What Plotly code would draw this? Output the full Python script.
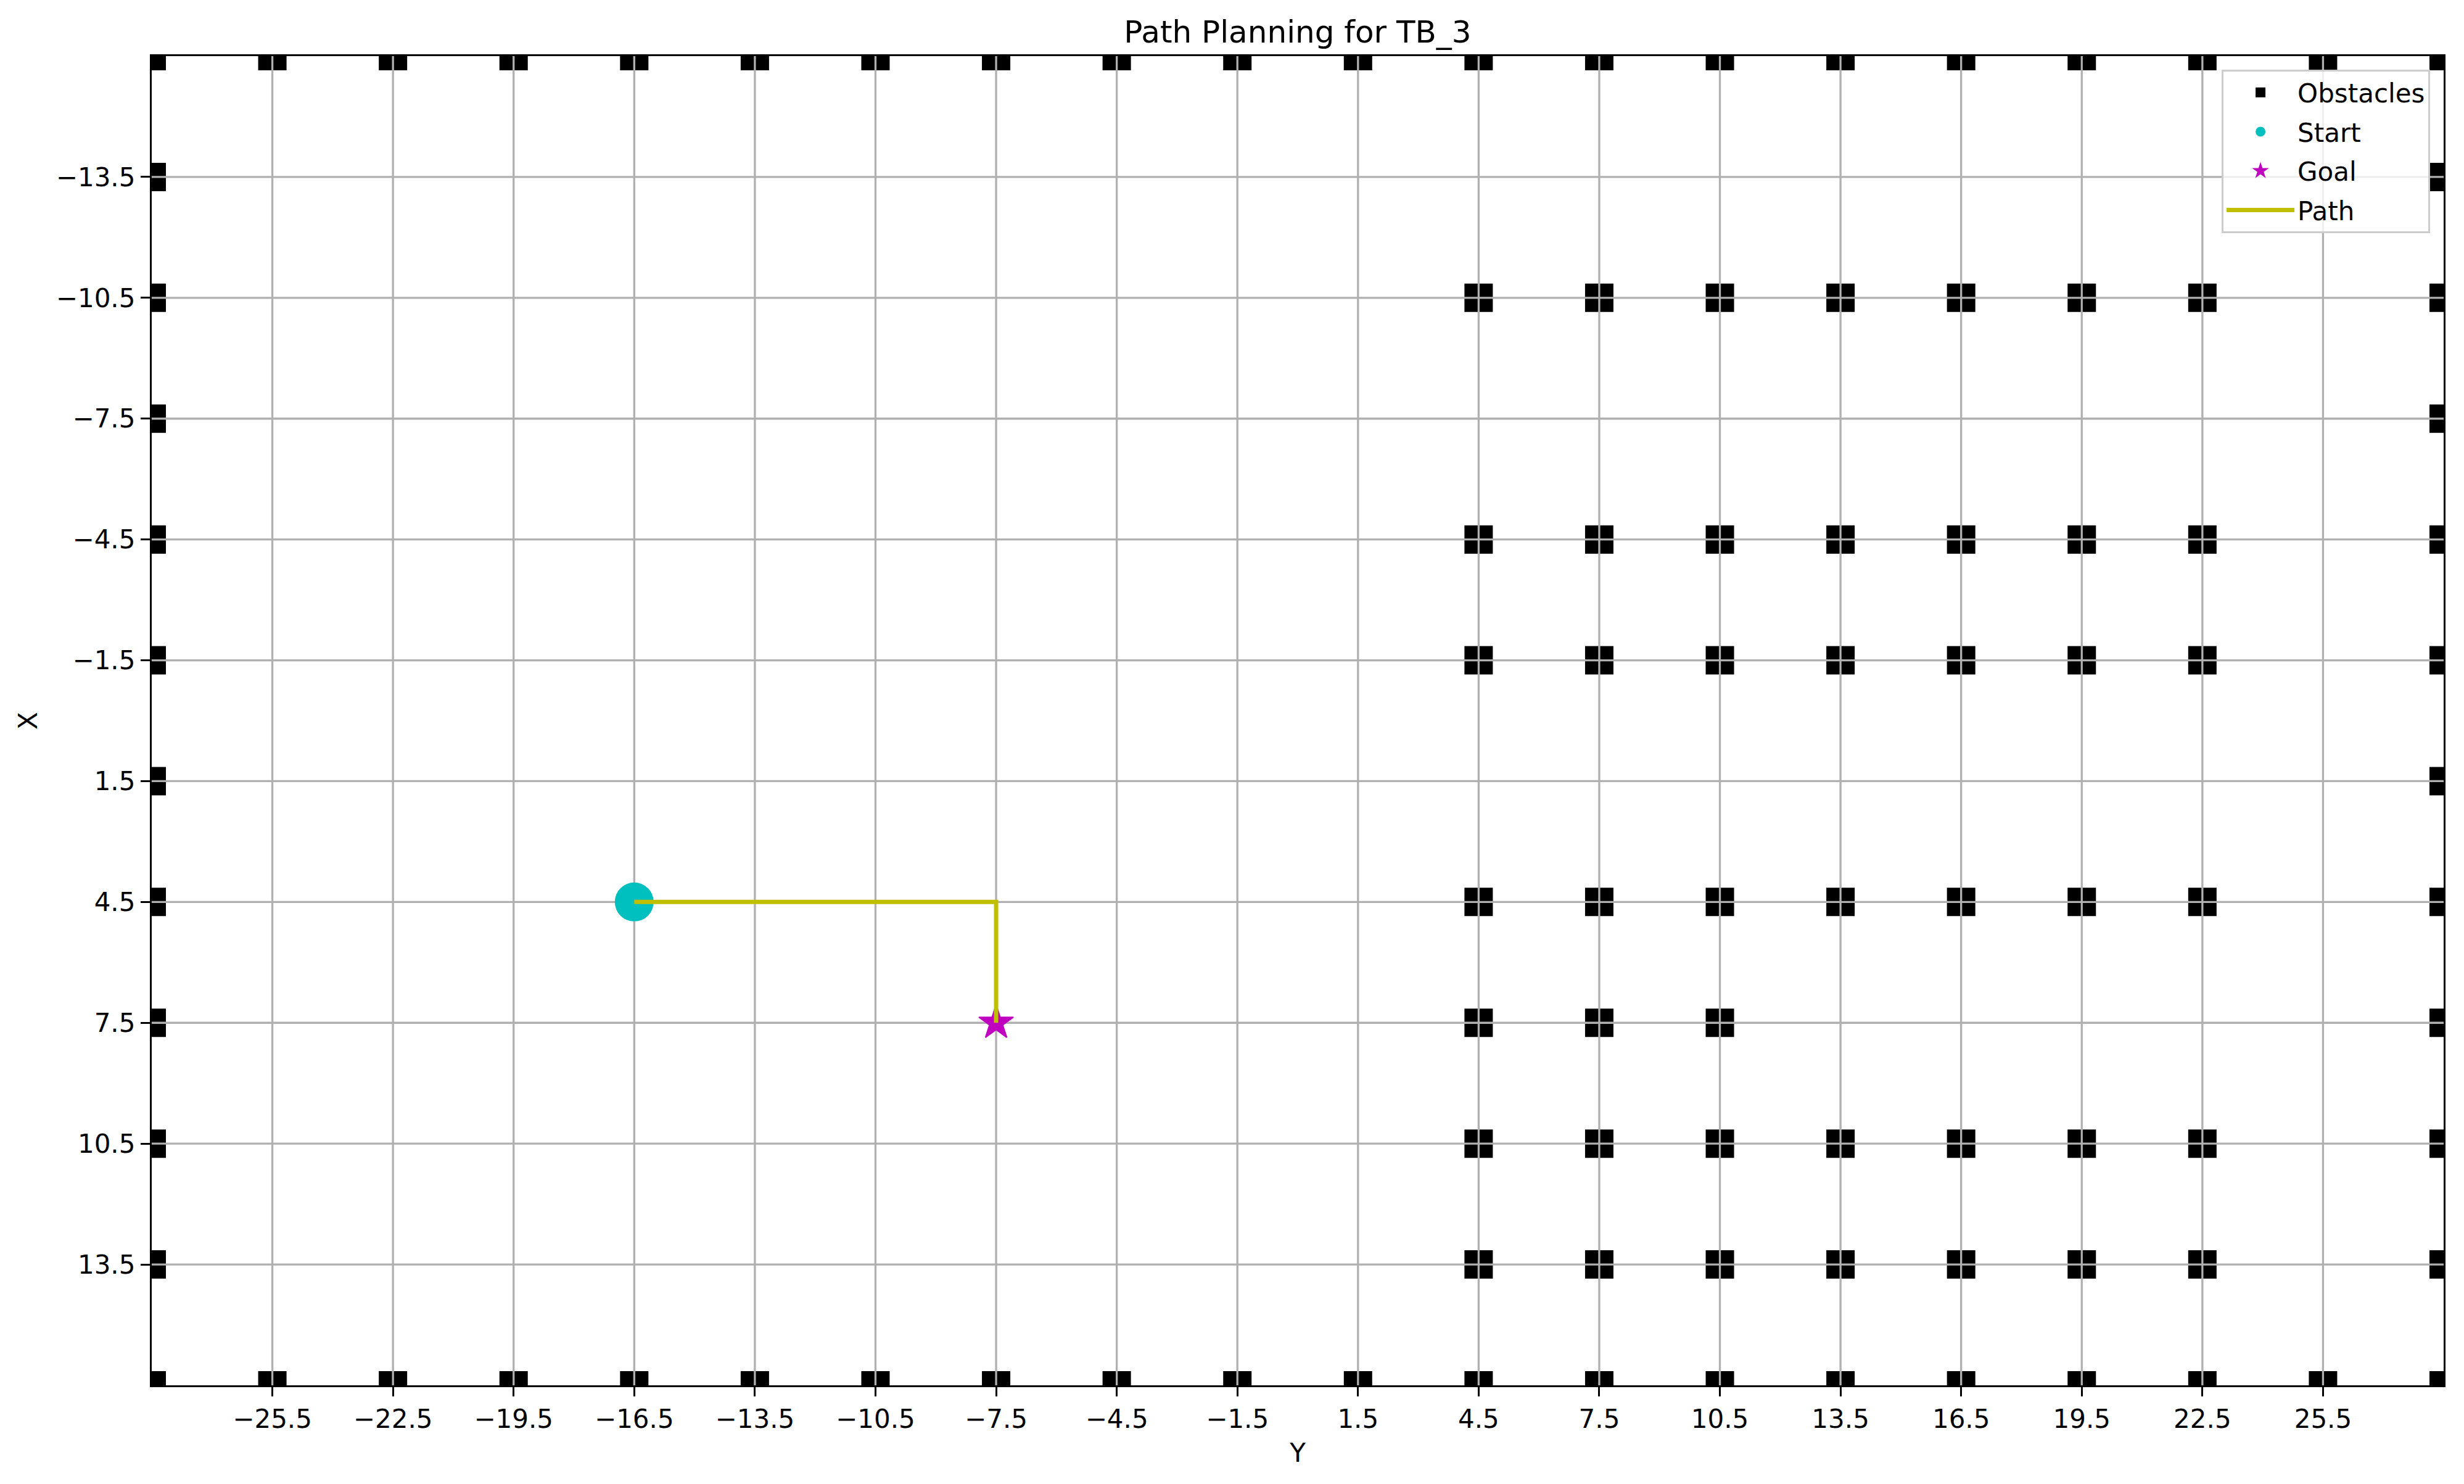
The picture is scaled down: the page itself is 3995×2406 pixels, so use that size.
import plotly.graph_objects as go

# ---------------- data ----------------
TITLE = "Path Planning for TB_3"
X_LABEL = "Y"
Y_LABEL = "X"

# horizontal axis ("Y") ticks and limits
y_ticks = [-25.5, -22.5, -19.5, -16.5, -13.5, -10.5, -7.5, -4.5, -1.5,
           1.5, 4.5, 7.5, 10.5, 13.5, 16.5, 19.5, 22.5, 25.5]
y_limits = [-28.5, 28.5]
# vertical axis ("X") ticks and limits (inverted)
x_ticks = [-13.5, -10.5, -7.5, -4.5, -1.5, 1.5, 4.5, 7.5, 10.5, 13.5]
x_limits = [-16.5, 16.5]

# obstacles: outer border
border_y = [-28.5, -25.5, -22.5, -19.5, -16.5, -13.5, -10.5, -7.5, -4.5, -1.5,
            1.5, 4.5, 7.5, 10.5, 13.5, 16.5, 19.5, 22.5, 25.5, 28.5]
border_x = [-16.5, -13.5, -10.5, -7.5, -4.5, -1.5, 1.5, 4.5, 7.5, 10.5, 13.5, 16.5]
# obstacles: interior blocks
block_cols = [4.5, 7.5, 10.5, 13.5, 16.5, 19.5, 22.5]
block_rows_full = [-10.5, -4.5, -1.5, 4.5, 10.5, 13.5]
block_row_partial = 7.5
block_cols_partial = [4.5, 7.5, 10.5]

start_y, start_x = -16.5, 4.5
goal_y, goal_x = -7.5, 7.5
path_y = [-16.5, -13.5, -10.5, -7.5, -7.5]
path_x = [4.5, 4.5, 4.5, 4.5, 7.5]

# ---------------- build obstacle list ----------------
obs_y, obs_x = [], []
for yy in border_y:
    for xx in (x_limits[0], x_limits[1]):
        obs_y.append(yy); obs_x.append(xx)
for xx in border_x:
    for yy in (y_limits[0], y_limits[1]):
        obs_y.append(yy); obs_x.append(xx)
for xx in block_rows_full:
    for yy in block_cols:
        obs_y.append(yy); obs_x.append(xx)
for yy in block_cols_partial:
    obs_y.append(yy); obs_x.append(block_row_partial)


def fmt(v):
    s = f"{v:.1f}"
    return s.replace("-", "\u2212")


FONT = "DejaVu Sans, Liberation Sans, sans-serif"
W, H = 3995, 2406
L, R, T, B = 246, 33, 91, 160

fig = go.Figure()

fig.add_trace(go.Scatter(
    x=obs_y, y=obs_x, mode="markers", name="Obstacles", legendgroup="obs",
    marker=dict(symbol="square", size=46, color="black", line=dict(width=0)),
))

# grid lines drawn above obstacle markers (as in the reference)
gx, gy = [], []
for t in y_ticks:
    gx += [t, t, None]
    gy += [x_limits[0], x_limits[1], None]
for t in x_ticks:
    gx += [y_limits[0], y_limits[1], None]
    gy += [t, t, None]
fig.add_trace(go.Scatter(
    x=gx, y=gy, mode="lines", line=dict(color="#b0b0b0", width=3.3),
    showlegend=False, hoverinfo="skip",
))

fig.add_trace(go.Scatter(
    x=[start_y], y=[start_x], mode="markers", name="Start", legendgroup="start",
    marker=dict(symbol="circle", size=63, color="#00bfbf", line=dict(width=0)),
))
fig.add_trace(go.Scatter(
    x=[goal_y], y=[goal_x], mode="markers", name="Goal", legendgroup="goal",
    marker=dict(symbol="star", size=42, color="#bf00bf",
                line=dict(width=2, color="#bf00bf")),
))
fig.add_trace(go.Scatter(
    x=path_y, y=path_x, mode="lines", name="Path", legendgroup="path",
    line=dict(color="#bfbf00", width=7),
))

axis_common = dict(
    showgrid=False, zeroline=False,
    showline=True, linecolor="black", linewidth=3.3, mirror=True,
    ticks="outside", ticklen=15, tickwidth=3.3, tickcolor="black",
    tickfont=dict(size=42, color="black", family=FONT),
)

fig.update_layout(
    width=W, height=H, autosize=False,
    margin=dict(l=L, r=R, t=T, b=B, pad=0),
    paper_bgcolor="white", plot_bgcolor="white",
    font=dict(family=FONT, size=42, color="black"),
    title=dict(text=TITLE, x=0.5, xref="paper", xanchor="center",
               y=1 - 51 / H, yref="container", yanchor="middle",
               font=dict(size=50, color="black", family=FONT)),
    xaxis=dict(range=y_limits, tickvals=y_ticks,
               ticktext=[fmt(v) for v in y_ticks],
               title=dict(text=X_LABEL, font=dict(size=42, color="black"), standoff=18),
               **axis_common),
    yaxis=dict(range=[x_limits[1], x_limits[0]], tickvals=x_ticks,
               ticktext=[fmt(v) for v in x_ticks],
               title=dict(text=Y_LABEL, font=dict(size=42, color="black"), standoff=18),
               **axis_common),
    legend=dict(x=0.9941, y=0.9898, xanchor="right", yanchor="top",
                bgcolor="rgba(255,255,255,0.8)", bordercolor="#cccccc", borderwidth=3,
                font=dict(size=42, color="black", family=FONT),
                itemsizing="trace", itemwidth=110, tracegroupgap=6),
    showlegend=True,
)

fig.write_html("out.html")
